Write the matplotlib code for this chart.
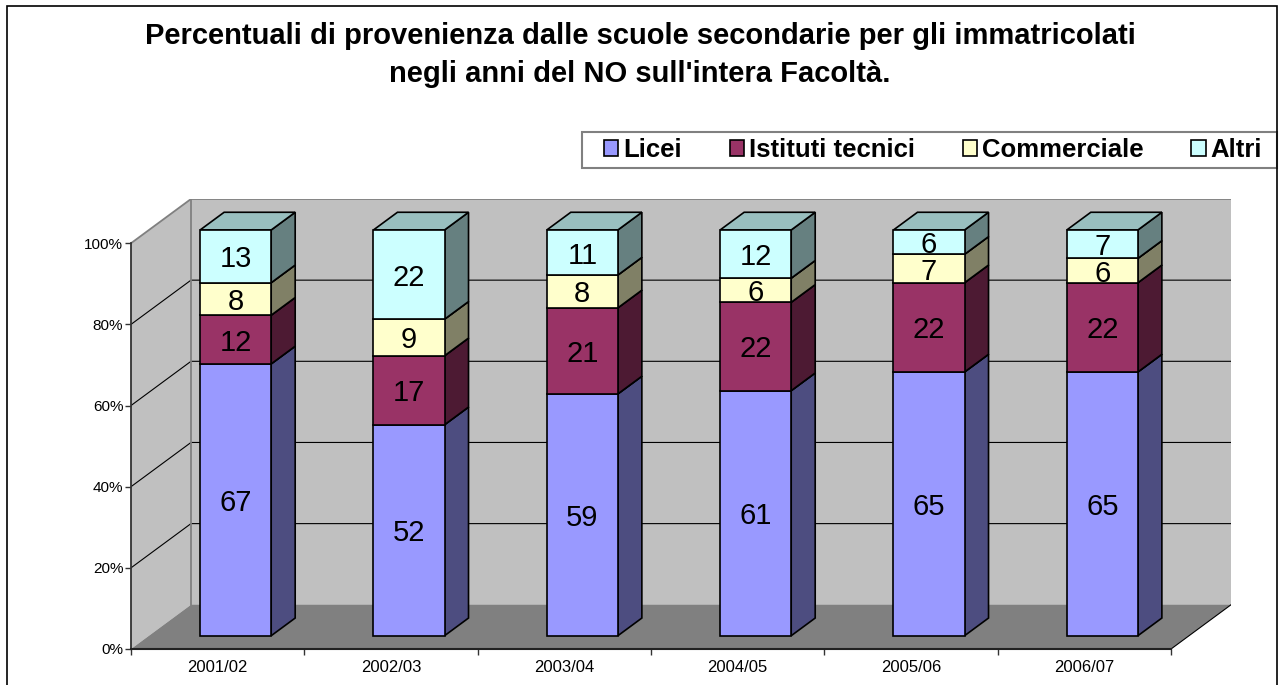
import matplotlib.pyplot as plt
import matplotlib.colors as mcolors
from matplotlib.patches import Polygon, Rectangle, Patch
from matplotlib.ticker import PercentFormatter, FixedLocator, FixedFormatter, NullFormatter
import numpy as np

plt.rcParams['font.family'] = ['Liberation Sans', 'DejaVu Sans']

# data
years = ["2001/02", "2002/03", "2003/04", "2004/05", "2005/06", "2006/07"]
series = ["Licei", "Istituti tecnici", "Commerciale", "Altri"]
licei = [67, 52, 59, 61, 65, 65]
tecnici = [12, 17, 21, 22, 22, 22]
commerciale = [8, 9, 8, 6, 7, 6]
altri = [13, 22, 11, 12, 6, 7]
colors = ["#9999FF", "#993366", "#FFFFCC", "#CCFFFF"]

title = ("Percentuali di provenienza dalle scuole secondarie per gli immatricolati\n"
         "negli anni del NO sull'intera Facoltà.")

# oblique depth of the 3D box (data units: categories, percent)
DX, DY = 0.346, 10.9
D0, D1 = 0.3, 0.7      # depth range of the bars inside the box
BAR_W = 0.41


def proj(x, y, d):
    """shift a point of the front plane back to depth d"""
    return (x + d * DX, y + d * DY)


def shade(c, f):
    r, g, b = mcolors.to_rgb(c)
    return (r * f, g * f, b * f)


W, H = 1282, 685
fig = plt.figure(figsize=(W / 100, H / 100), dpi=100)
ax = fig.add_axes([131 / W, 36 / H, 1100 / W, 450 / H])
n = len(years)
ax.set_xlim(0, n + DX)
ax.set_ylim(0, 100 + DY)
ax.patch.set_visible(False)

# walls and floor
wall = "#C0C0C0"
ax.add_patch(Polygon([proj(0, 0, 0), proj(0, 0, 1), proj(0, 100, 1), proj(0, 100, 0)],
                     fc=wall, ec='none', zorder=0))
ax.add_patch(Polygon([proj(0, 0, 1), proj(n, 0, 1), proj(n, 100, 1), proj(0, 100, 1)],
                     fc=wall, ec='none', zorder=0))
ax.add_patch(Polygon([proj(0, 0, 0), proj(n, 0, 0), proj(n, 0, 1), proj(0, 0, 1)],
                     fc="#808080", ec='none', zorder=0))

# gridlines on the walls
for p in [20, 40, 60, 80]:
    pts = [proj(0, p, 0), proj(0, p, 1), proj(n, p, 1)]
    ax.plot([q[0] for q in pts], [q[1] for q in pts], color='black', lw=0.8, zorder=1)

# wall outlines
pts = [proj(0, 100, 0), proj(0, 100, 1), proj(n, 100, 1)]
ax.plot([q[0] for q in pts], [q[1] for q in pts], color='#808080', lw=1.3, zorder=1)
pts = [proj(0, 0, 1), proj(0, 100, 1)]
ax.plot([q[0] for q in pts], [q[1] for q in pts], color='#808080', lw=1.3, zorder=1)
pts = [proj(n, 0, 0), proj(n, 0, 1)]
ax.plot([q[0] for q in pts], [q[1] for q in pts], color='black', lw=0.8, zorder=1)

# stacked 3D bars (100% stacked)
data = np.array([licei, tecnici, commerciale, altri], dtype=float)
pct = data / data.sum(axis=0) * 100
bottoms = np.vstack([np.zeros(n), np.cumsum(pct, axis=0)[:-1]])

for i in range(n):
    xl = i + 0.5 - BAR_W / 2
    xr = i + 0.5 + BAR_W / 2
    for k in range(len(series)):
        y0 = bottoms[k, i]
        y1 = y0 + pct[k, i]
        c = colors[k]
        front = [proj(xl, y0, D0), proj(xr, y0, D0), proj(xr, y1, D0), proj(xl, y1, D0)]
        side = [proj(xr, y0, D0), proj(xr, y0, D1), proj(xr, y1, D1), proj(xr, y1, D0)]
        top = [proj(xl, y1, D0), proj(xr, y1, D0), proj(xr, y1, D1), proj(xl, y1, D1)]
        for poly, fcol in [(side, shade(c, 0.5)), (top, shade(c, 0.75)), (front, c)]:
            ax.add_patch(Polygon(poly, fc=fcol, ec='black', lw=1.2, zorder=3,
                                 joinstyle='miter'))
        cx, cy = proj(i + 0.5, (y0 + y1) / 2, D0)
        ax.text(cx, cy, f"{int(data[k, i])}", ha='center', va='center_baseline',
                fontsize=21, zorder=5)

# front axes
for s in ['top', 'right']:
    ax.spines[s].set_visible(False)
ax.spines['left'].set_bounds(0, 100)
ax.spines['bottom'].set_bounds(0, n)
ax.spines['left'].set_color('#333333')
ax.spines['bottom'].set_color('#222222')
ax.spines['left'].set_linewidth(1.3)
ax.spines['bottom'].set_linewidth(1.5)
ax.spines['left'].set_zorder(2)
ax.spines['bottom'].set_zorder(2)

ax.set_yticks(range(0, 101, 20))
ax.yaxis.set_major_formatter(PercentFormatter(decimals=0))
ax.set_xticks(range(n + 1))
ax.xaxis.set_major_formatter(NullFormatter())
ax.xaxis.set_minor_locator(FixedLocator([i + 0.5 for i in range(n)]))
ax.xaxis.set_minor_formatter(FixedFormatter(years))
ax.tick_params(axis='y', length=4.5, width=1, color='#333333', pad=1, labelsize=11)
ax.tick_params(axis='x', which='major', length=4.5, width=1, color='#333333')
ax.tick_params(axis='x', which='minor', length=0, pad=8, labelsize=12)

# title
fig.text(640 / W, 1 - 55 / H, title, ha='center', va='center', fontsize=21,
         fontweight='bold', linespacing=1.48)

# legend (frame drawn separately, it meets the chart border on the right)
fig.add_artist(Rectangle((582 / W, 1 - 168 / H), 695 / W, 36 / H, transform=fig.transFigure,
                         fc='white', ec='#808080', lw=1.5, zorder=1))
handles = [Patch(facecolor=c, edgecolor='black', lw=1.2) for c in colors]
leg = fig.legend(handles, series, loc='center left', ncol=4,
                 bbox_to_anchor=(604 / W, 1 - 150 / H), frameon=False,
                 prop={'weight': 'bold', 'size': 18.5}, handlelength=0.55, handleheight=0.55,
                 handletextpad=0.2, columnspacing=1.86, borderaxespad=0, borderpad=0)
leg.set_zorder(2)

# chart border
fig.add_artist(Rectangle((7 / W, -0.02), 1270 / W, (H - 6) / H + 0.02,
                         transform=fig.transFigure, fill=False, ec='black', lw=1.2, zorder=3))

fig.savefig("out.png", dpi=100)
